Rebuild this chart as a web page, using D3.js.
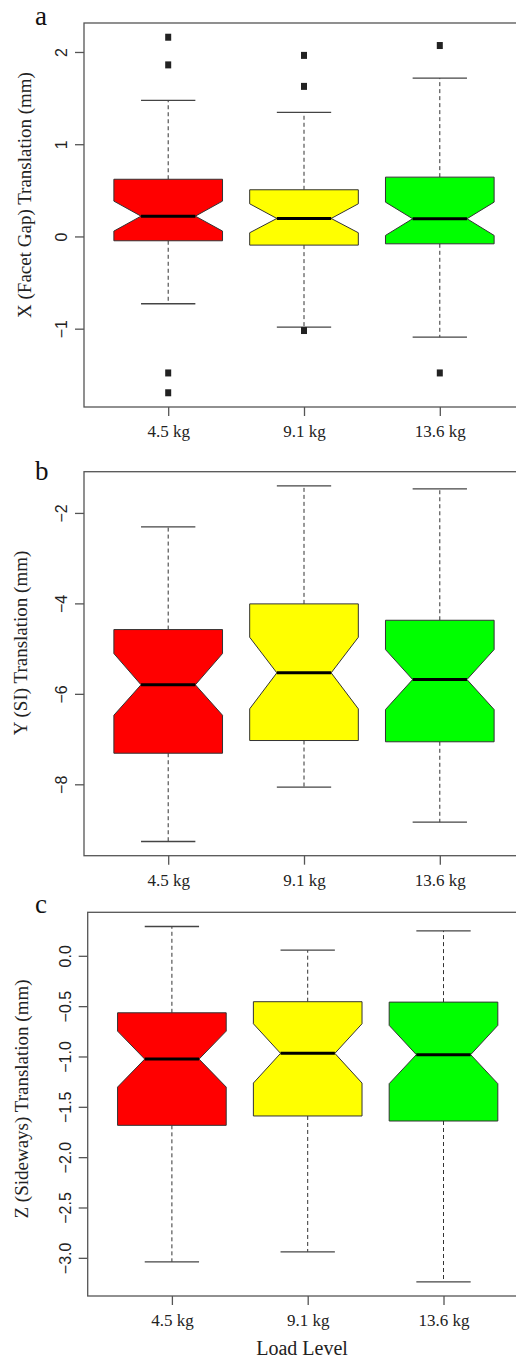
<!DOCTYPE html>
<html>
<head>
<meta charset="utf-8">
<script src="https://cdn.jsdelivr.net/npm/d3@7"></script>
<style>
  body { margin: 0; background: #fff; overflow: hidden; }
  svg { display: block; }
</style>
</head>
<body>
<div id="chart"></div>
<script>
const loads = ["4.5 kg", "9.1 kg", "13.6 kg"];
const fills = ["#ff0000", "#ffff00", "#00ff00"];

// panel a: X (Facet Gap)
const xLow = [-0.73, -0.984, -1.092];
const xQ1 = [-0.047, -0.094, -0.08];
const xNotchLo = [0.058, 0.04, 0.011];
const xMed = [0.22, 0.195, 0.192];
const xNotchHi = [0.383, 0.354, 0.372];
const xQ3 = [0.62, 0.506, 0.643];
const xHigh = [1.475, 1.345, 1.717];
const xOut = [[2.16, 1.86, -1.48, -1.695], [1.963, 1.627, -1.02], [2.07, -1.48]];
const xTicks = [-1, 0, 1, 2];

// panel b: Y (SI)
const yLow = [-9.264, -8.064, -8.838];
const yQ1 = [-7.313, -7.032, -7.06];
const yNotchLo = [-6.473, -6.331, -6.347];
const yMed = [-5.80, -5.536, -5.684];
const yNotchHi = [-5.109, -4.749, -5.021];
const yQ3 = [-4.579, -4.011, -4.373];
const yHigh = [-2.31, -1.403, -1.47];
const yOut = [[], [], []];
const yTicks = [-8, -6, -4, -2];

// panel c: Z (Sideways)
const zLow = [-3.04, -2.94, -3.238];
const zQ1 = [-1.684, -1.591, -1.641];
const zNotchLo = [-1.304, -1.264, -1.27];
const zMed = [-1.026, -0.969, -0.982];
const zNotchHi = [-0.748, -0.675, -0.691];
const zQ3 = [-0.566, -0.456, -0.46];
const zHigh = [0.291, 0.056, 0.248];
const zOut = [[], [], []];
const zTicks = [-3, -2.5, -2, -1.5, -1, -0.5, 0];

const width = 516;
const height = 1361;

const svg = d3.select("#chart").append("svg")
    .attr("width", width)
    .attr("height", height);

const serif = "'Liberation Serif', 'Times New Roman', serif";
const sans = "'Liberation Sans', Arial, sans-serif";
const frameColor = "#555";

const panels = [
    { letter: "a", title: "X (Facet Gap) Translation (mm)", left: 84, top: 23, bottom: 407,
      titleX: 31, titleY: 195, letterY: 25,
      low: xLow, q1: xQ1, nlo: xNotchLo, med: xMed, nhi: xNotchHi, q3: xQ3, high: xHigh, out: xOut,
      ticks: xTicks, fmt: d3.format("d") },
    { letter: "b", title: "Y (SI) Translation (mm)", left: 84, top: 471.7, bottom: 855.7,
      titleX: 27, titleY: 643, letterY: 480,
      low: yLow, q1: yQ1, nlo: yNotchLo, med: yMed, nhi: yNotchHi, q3: yQ3, high: yHigh, out: yOut,
      ticks: yTicks, fmt: d3.format("d") },
    { letter: "c", title: "Z (Sideways) Translation (mm)", left: 87.7, top: 912.3, bottom: 1296,
      titleX: 28, titleY: 1099, letterY: 913,
      low: zLow, q1: zQ1, nlo: zNotchLo, med: zMed, nhi: zNotchHi, q3: zQ3, high: zHigh, out: zOut,
      ticks: zTicks, fmt: d3.format(".1f") }
];

panels.forEach(p => drawPanel(p));

function drawPanel(p) {
    const g = svg.append("g");
    const right = p.left + 440;

    // R style ranges: 4% padding around the data
    const all = p.low.concat(p.high, p.out.flat());
    const lo = d3.min(all), hi = d3.max(all);
    const pad = (hi - lo) * 0.04;
    const y = d3.scaleLinear().domain([lo - pad, hi + pad]).range([p.bottom, p.top]);
    const x = d3.scaleLinear().domain([0.38, 3.62]).range([p.left, right]);

    const hw = x(1.4) - x(1); // half box width (box = 0.8)

    const rows = loads.map((name, i) => ({
        name, i, cx: x(i + 1),
        low: p.low[i], q1: p.q1[i], nlo: p.nlo[i], med: p.med[i],
        nhi: p.nhi[i], q3: p.q3[i], high: p.high[i], out: p.out[i]
    }));

    // whiskers
    const wg = g.append("g");
    rows.forEach(d => {
        wg.append("line")
            .attr("x1", d.cx).attr("x2", d.cx)
            .attr("y1", y(d.q3)).attr("y2", y(d.high))
            .attr("stroke", "#333").attr("stroke-dasharray", "4,3");
        wg.append("line")
            .attr("x1", d.cx).attr("x2", d.cx)
            .attr("y1", y(d.q1)).attr("y2", y(d.low))
            .attr("stroke", "#333").attr("stroke-dasharray", "4,3");
        [d.low, d.high].forEach(v => {
            wg.append("line")
                .attr("x1", d.cx - hw / 2).attr("x2", d.cx + hw / 2)
                .attr("y1", y(v)).attr("y2", y(v))
                .attr("stroke", "#444").attr("stroke-width", 1.3);
        });
    });

    // notched boxes
    g.append("g").selectAll("path")
        .data(rows)
        .enter().append("path")
        .attr("d", d => {
            const pts = [
                [d.cx - hw, y(d.q3)], [d.cx + hw, y(d.q3)],
                [d.cx + hw, y(d.nhi)], [d.cx + hw / 2, y(d.med)],
                [d.cx + hw, y(d.nlo)], [d.cx + hw, y(d.q1)],
                [d.cx - hw, y(d.q1)], [d.cx - hw, y(d.nlo)],
                [d.cx - hw / 2, y(d.med)], [d.cx - hw, y(d.nhi)]
            ];
            return "M" + pts.map(q => q.join(",")).join("L") + "Z";
        })
        .attr("fill", d => fills[d.i])
        .attr("stroke", "#333")
        .attr("stroke-width", 1);

    // medians
    g.append("g").selectAll("line")
        .data(rows)
        .enter().append("line")
        .attr("x1", d => d.cx - hw / 2).attr("x2", d => d.cx + hw / 2)
        .attr("y1", d => y(d.med)).attr("y2", d => y(d.med))
        .attr("stroke", "#000").attr("stroke-width", 3);

    // outliers
    rows.forEach(d => {
        g.append("g").selectAll("rect")
            .data(d.out)
            .enter().append("rect")
            .attr("x", d.cx - 3).attr("y", v => y(v) - 3.5)
            .attr("width", 6).attr("height", 7)
            .attr("fill", "#222");
    });

    // frame (right side runs off the page)
    g.append("rect")
        .attr("x", p.left).attr("y", p.top)
        .attr("width", right - p.left).attr("height", p.bottom - p.top)
        .attr("fill", "none").attr("stroke", frameColor).attr("stroke-width", 1.3);

    // y axis
    const ya = g.append("g")
        .attr("transform", `translate(${p.left},0)`)
        .call(d3.axisLeft(y).tickValues(p.ticks).tickFormat(p.fmt).tickSize(9).tickPadding(0));
    ya.select(".domain").remove();
    ya.selectAll(".tick line").attr("stroke", frameColor).attr("stroke-width", 1.3);
    ya.selectAll(".tick text")
        .attr("x", null).attr("dy", null)
        .attr("transform", "translate(-17,0) rotate(-90)")
        .attr("text-anchor", "middle")
        .attr("font-family", sans).attr("font-size", 16).attr("fill", "#222");

    // x axis
    const xa = g.append("g")
        .attr("transform", `translate(0,${p.bottom})`)
        .call(d3.axisBottom(x).tickValues([1, 2, 3]).tickFormat(i => loads[i - 1]).tickSize(9).tickPadding(0));
    xa.select(".domain").remove();
    xa.selectAll(".tick line").attr("stroke", frameColor).attr("stroke-width", 1.3);
    xa.selectAll(".tick text")
        .attr("y", 30).attr("dy", null)
        .attr("font-family", serif).attr("font-size", 17).attr("fill", "#222");

    // titles
    g.append("text")
        .attr("transform", `translate(${p.titleX},${p.titleY}) rotate(-90)`)
        .attr("text-anchor", "middle")
        .attr("font-family", serif).attr("font-size", 19).attr("fill", "#222")
        .text(p.title);

    g.append("text")
        .attr("x", 35).attr("y", p.letterY)
        .attr("font-family", serif).attr("font-size", 27).attr("fill", "#111")
        .text(p.letter);
}

svg.append("text")
    .attr("x", 302).attr("y", 1355)
    .attr("text-anchor", "middle")
    .attr("font-family", serif).attr("font-size", 20).attr("fill", "#222")
    .text("Load Level");
</script>
</body>
</html>
